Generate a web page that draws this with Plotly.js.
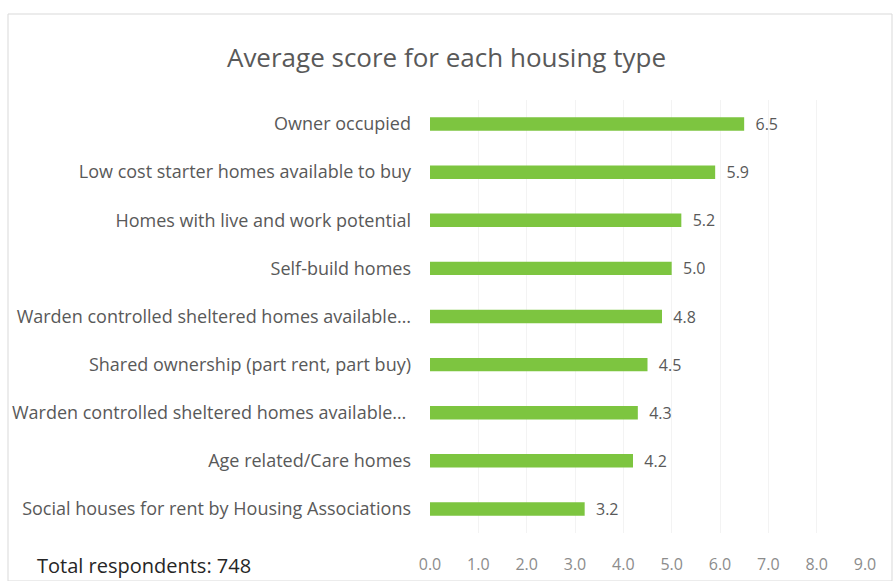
<!DOCTYPE html>
<html>
<head>
<meta charset="utf-8">
<script src="https://cdn.plot.ly/plotly-3.0.1.min.js"></script>
<style>
  html, body { margin: 0; padding: 0; background: #ffffff; }
  #chart { width: 893px; height: 581px; }
</style>
</head>
<body>
<div id="chart"></div>
<script>
// Categories listed bottom-to-top (plotly draws the first at the bottom)
const categories = [
  "Social houses for rent by Housing Associations",
  "Age related/Care homes",
  "Warden controlled sheltered homes available\u2026 ",
  "Shared ownership (part rent, part buy)",
  "Warden controlled sheltered homes available\u2026",
  "Self-build homes",
  "Homes with live and work potential",
  "Low cost starter homes available to buy",
  "Owner occupied"
];
const scores = [3.2, 4.2, 4.3, 4.5, 4.8, 5.0, 5.2, 5.9, 6.5];
const tickValues = [0, 1, 2, 3, 4, 5, 6, 7, 8, 9];
const tickLabels = ["0.0", "1.0", "2.0", "3.0", "4.0", "5.0", "6.0", "7.0", "8.0", "9.0"];
const titleText = "Average score for each housing type";
const footnote = "Total respondents: 748";

const FONT = "Open Sans, Liberation Sans, sans-serif";

const trace = {
  type: "bar",
  orientation: "h",
  y: categories,
  x: scores,
  width: 0.28,
  marker: { color: "#7dc540" },
  text: scores.map(v => "\u00a0\u00a0" + v.toFixed(1)),
  textposition: "outside",
  constraintext: "none",
  cliponaxis: false,
  textfont: { family: FONT, size: 16, color: "#595959" },
  outsidetextfont: { family: FONT, size: 16, color: "#595959" },
  hoverinfo: "x+y"
};

const layout = {
  width: 893,
  height: 581,
  margin: { l: 430, r: 28, t: 100, b: 48 },
  paper_bgcolor: "#ffffff",
  plot_bgcolor: "#ffffff",
  showlegend: false,
  title: {
    text: titleText,
    x: 0.5,
    xref: "container",
    xanchor: "center",
    y: 1 - 58 / 581,
    yanchor: "middle",
    font: { family: FONT, size: 26, color: "#595959" }
  },
  xaxis: {
    range: [0, 9],
    tickvals: tickValues,
    ticktext: tickLabels,
    showgrid: true,
    gridcolor: "#f3f3f3",
    zeroline: false,
    showline: false,
    ticks: "",
    ticklabelstandoff: 20,
    tickfont: { family: FONT, size: 16, color: "#8c8c8c" },
    fixedrange: true
  },
  yaxis: {
    type: "category",
    showgrid: false,
    zeroline: false,
    showline: false,
    ticks: "",
    ticklabelstandoff: 18,
    tickfont: { family: FONT, size: 18, color: "#595959" },
    fixedrange: true
  },
  shapes: [
    {
      type: "rect", xref: "paper", yref: "paper",
      x0: (8 - 430) / 435, x1: (892 - 430) / 435,
      y0: -48 / 433, y1: (533 - 14) / 433,
      line: { color: "#d9d9d9", width: 1 },
      fillcolor: "rgba(0,0,0,0)",
      layer: "below"
    }
  ],
  annotations: [
    {
      text: footnote,
      xref: "paper", yref: "paper",
      x: (35 - 430) / 435, xanchor: "left",
      y: -(565 - 533) / 433, yanchor: "middle",
      showarrow: false,
      font: { family: FONT, size: 20, color: "#262626" }
    }
  ]
};

Plotly.newPlot("chart", [trace], layout, { displayModeBar: false, staticPlot: true });
</script>
</body>
</html>
